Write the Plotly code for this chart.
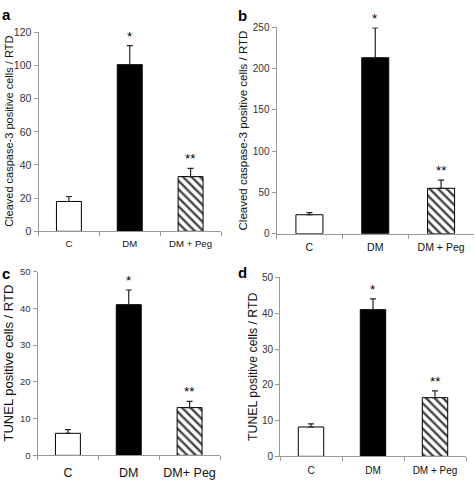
import plotly.graph_objects as go

W, H = 475, 488

# ---- data ----
cats_a = ["C", "DM", "DM + Peg"]
vals_a = [18, 100.5, 33]
err_a = [3, 11.5, 5]

cats_b = ["C", "DM", "DM + Peg"]
vals_b = [23, 213, 55]
err_b = [2.5, 36, 10]

cats_c = ["C", "DM", "DM+ Peg"]
vals_c = [6, 41, 13]
err_c = [1, 4, 1.7]

cats_d = ["C", "DM", "DM + Peg"]
vals_d = [8.2, 41, 16.4]
err_d = [0.9, 3, 1.9]

sig_marks = ["", "*", "**"]
ytitle_ab = "Cleaved caspase-3 positive cells / RTD"
ytitle_cd = "TUNEL positive cells / RTD"
panel_letters = ["a", "b", "c", "d"]
yranges = [[0, 120], [0, 250], [0, 50], [0, 50]]
ydticks = [20, 50, 10, 10]

# ---- layout geometry (pixels) ----
# (x_left, x_right, y_zero, y_top)
geom = [
    (38.5, 221, 231, 27),
    (276.5, 474, 233.5, 21.7),
    (37.5, 220, 460.7, 272.3),
    (280, 466, 461.7, 278.3),
]
xfont = [9.6, 10.5, 12.5, 10]
yfont = [10.5, 10, 9.5, 10]
xstand = [3, 4, 6, 5]
title_font = [11, 11.5, 13, 12.3]
title_x = [9, 243, 8, 253]
letter_pos = [(0, -2), (236, -1), (0, 263), (236, 262)]

FONT = "Arial, Liberation Sans, sans-serif"
fills = ["white", "black", "white"]
patterns = ["", "", "\\"]

fig = go.Figure()
panels = [
    (cats_a, vals_a, err_a, ytitle_ab),
    (cats_b, vals_b, err_b, ytitle_ab),
    (cats_c, vals_c, err_c, ytitle_cd),
    (cats_d, vals_d, err_d, ytitle_cd),
]

for i, (cats, vals, errs, ytitle) in enumerate(panels):
    n = "" if i == 0 else str(i + 1)
    xa, ya = "x" + n, "y" + n
    fig.add_trace(go.Bar(
        x=cats, y=vals, width=0.41,
        marker=dict(color=fills, line=dict(color="black", width=1),
                    pattern=dict(shape=patterns, fgcolor="black", bgcolor="white",
                                 fgopacity=1, size=6, solidity=0.4)),
        error_y=dict(type="data", array=errs, arrayminus=[0, 0, 0],
                     color="#222", thickness=1.2, width=3),
        xaxis=xa, yaxis=ya, showlegend=False, hoverinfo="skip",
    ))
    xl, xr, y0, yt = geom[i]
    xdom = [xl / W, xr / W]
    ydom = [1 - y0 / H, 1 - yt / H]
    fig.layout["xaxis" + n] = dict(
        domain=xdom, anchor=ya, type="category",
        showline=True, linecolor="#999", linewidth=1,
        ticks="outside", tickson="boundaries", ticklen=4, tickcolor="#999",
        tickfont=dict(family=FONT, size=xfont[i], color="#111"),
        tickangle=0, ticklabelstandoff=xstand[i],
        showgrid=False, zeroline=False, fixedrange=True,
    )
    fig.layout["yaxis" + n] = dict(
        domain=ydom, anchor=xa, range=yranges[i], dtick=ydticks[i],
        showline=True, linecolor="#999", linewidth=1,
        ticks="outside", ticklen=4, tickcolor="#999",
        tickfont=dict(family=FONT, size=yfont[i], color="#333"),
        showgrid=False, zeroline=False, fixedrange=True,
    )
    # y-axis title (as rotated annotation centred on the axis domain)
    fig.add_annotation(x=title_x[i] / W, y=(ydom[0] + ydom[1]) / 2,
                       xref="paper", yref="paper", text=ytitle, textangle=-90,
                       showarrow=False, xanchor="center", yanchor="middle",
                       font=dict(family=FONT, size=title_font[i], color="#111"))
    for c, v, e, s in zip(cats, vals, errs, sig_marks):
        if s:
            fig.add_annotation(x=c, y=v + e, xref=xa, yref=ya, text=s, showarrow=False,
                               yanchor="bottom", yshift=0,
                               font=dict(family=FONT, size=13.5, color="black"))
    lx, ly = letter_pos[i]
    fig.add_annotation(x=lx / W, y=1 - ly / H, xref="paper", yref="paper",
                       text="<b>" + panel_letters[i] + "</b>", showarrow=False,
                       xanchor="left", yanchor="top",
                       font=dict(family=FONT, size=15, color="black"))

fig.update_layout(
    width=W, height=H, margin=dict(l=0, r=0, t=0, b=0),
    paper_bgcolor="white", plot_bgcolor="white",
    font=dict(family=FONT), hovermode=False,
)
fig.write_html("out.html", config={"displayModeBar": False},
               post_script="document.body.style.margin='0';document.body.style.overflow='hidden';")
